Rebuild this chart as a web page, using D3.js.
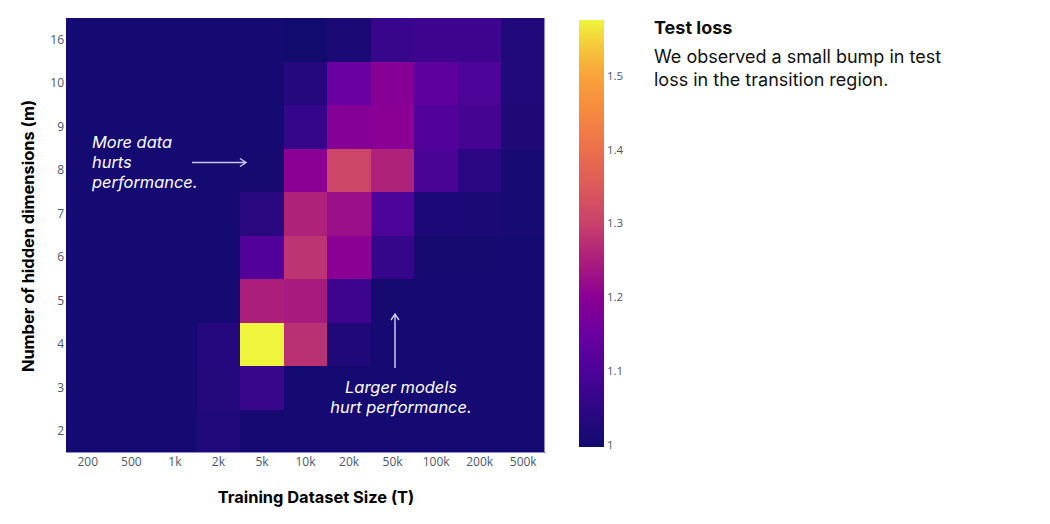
<!DOCTYPE html>
<html>
<head>
<meta charset="utf-8">
<script src="https://cdn.jsdelivr.net/npm/d3@7"></script>
<style>
  body { margin: 0; background: #fff; }
  svg { display: block; }
  .tick text { font-family: "Open Sans", sans-serif; font-size: 12px; fill: #4c586e; }
  .cb .tick text { font-size: 11.5px; }
  .title { font-family: Inter, sans-serif; font-weight: 700; font-size: 16.4px; fill: #000; }
  .note { font-family: Inter, sans-serif; font-style: italic; font-size: 16.4px; fill: #fff; }
  .side { font-family: Inter, sans-serif; font-size: 18px; fill: #111; }
</style>
</head>
<body>
<svg id="chart" width="1050" height="524"></svg>
<script>
// training set sizes (columns) and hidden dimensions (rows, bottom to top)
var sizes = ["200", "500", "1k", "2k", "5k", "10k", "20k", "50k", "100k", "200k", "500k"];
var dims = ["2", "3", "4", "5", "6", "7", "8", "9", "10", "16"];

// test loss, one row per hidden dimension
var loss2  = [1.005, 1.005, 1.005, 1.025, 1.005, 1.005, 1.005, 1.005, 1.005, 1.005, 1.005];
var loss3  = [1.005, 1.005, 1.005, 1.030, 1.065, 1.005, 1.005, 1.005, 1.005, 1.005, 1.005];
var loss4  = [1.005, 1.005, 1.005, 1.035, 1.575, 1.275, 1.022, 1.005, 1.005, 1.005, 1.005];
var loss5  = [1.005, 1.005, 1.005, 1.005, 1.250, 1.245, 1.075, 1.006, 1.005, 1.005, 1.005];
var loss6  = [1.005, 1.005, 1.005, 1.005, 1.110, 1.280, 1.200, 1.060, 1.006, 1.006, 1.005];
var loss7  = [1.005, 1.005, 1.005, 1.005, 1.040, 1.255, 1.225, 1.100, 1.018, 1.015, 1.008];
var loss8  = [1.005, 1.005, 1.005, 1.005, 1.006, 1.200, 1.310, 1.255, 1.095, 1.045, 1.008];
var loss9  = [1.005, 1.005, 1.005, 1.005, 1.005, 1.060, 1.190, 1.200, 1.110, 1.090, 1.020];
var loss10 = [1.005, 1.005, 1.005, 1.005, 1.005, 1.035, 1.150, 1.195, 1.130, 1.100, 1.025];
var loss16 = [1.005, 1.005, 1.005, 1.005, 1.005, 0.997, 1.015, 1.065, 1.075, 1.075, 1.028];
var lossRows = [loss2, loss3, loss4, loss5, loss6, loss7, loss8, loss9, loss10, loss16];

// colour scale stops as seen on the colour bar
var stopValues = [0.997, 1.05, 1.1, 1.15, 1.2, 1.25, 1.3, 1.35, 1.4, 1.45, 1.5, 1.54, 1.575];
var stopColors = ["#110b6d", "#2e0785", "#4c0397", "#6a00a0", "#8a0094", "#ab1e7c", "#c8426a",
                  "#dc5a5a", "#eb704b", "#f5893f", "#f8a33a", "#f5c83a", "#eef53c"];
var cbTicks = [1, 1.1, 1.2, 1.3, 1.4, 1.5];

var svg = d3.select("#chart");

var x = d3.scaleBand().domain(sizes).range([66, 545]);
var y = d3.scaleBand().domain(dims.slice().reverse()).range([18, 453]);
var color = d3.scaleLinear().domain(stopValues).range(stopColors).clamp(true);

var cells = [];
lossRows.forEach(function (row, i) {
    row.forEach(function (v, j) {
        cells.push({ dim: dims[i], size: sizes[j], value: v });
    });
});

svg.append("g")
    .attr("shape-rendering", "crispEdges")
    .selectAll("rect")
    .data(cells)
    .enter()
    .append("rect")
    .attr("x", d => Math.round(x(d.size)))
    .attr("y", d => Math.round(y(d.dim)))
    .attr("width", d => Math.round(x(d.size) + x.bandwidth()) - Math.round(x(d.size)))
    .attr("height", d => Math.round(y(d.dim) + y.bandwidth()) - Math.round(y(d.dim)))
    .attr("fill", d => color(d.value));

// faint edge on right and bottom of the heatmap
svg.append("path")
    .attr("d", "M" + (x.range()[1] - 0.5) + "," + y.range()[0] + "V" + (y.range()[1] - 0.5) + "H" + x.range()[0])
    .attr("fill", "none")
    .attr("stroke", "#8f89d0")
    .attr("stroke-width", 1);

// axes
var xAxis = svg.append("g")
    .attr("transform", "translate(0,453)")
    .call(d3.axisBottom(x).tickSize(0).tickPadding(4));
xAxis.select(".domain").remove();

var yAxis = svg.append("g")
    .attr("transform", "translate(66,0)")
    .call(d3.axisLeft(y).tickSize(0).tickPadding(2));
yAxis.select(".domain").remove();

svg.append("text")
    .attr("class", "title")
    .attr("x", 316)
    .attr("y", 503)
    .attr("text-anchor", "middle")
    .text("Training Dataset Size (T)");

svg.append("text")
    .attr("class", "title")
    .attr("transform", "translate(34,236) rotate(-90)")
    .attr("text-anchor", "middle")
    .text("Number of hidden dimensions (m)");

// annotations
var leftNote = svg.append("text").attr("class", "note");
["More data", "hurts", "performance."].forEach(function (t, i) {
    leftNote.append("tspan").attr("x", 92).attr("y", 148 + i * 20).text(t);
});

var bottomNote = svg.append("text").attr("class", "note").attr("text-anchor", "middle");
["Larger models", "hurt performance."].forEach(function (t, i) {
    bottomNote.append("tspan").attr("x", 401).attr("y", 393 + i * 19.5).text(t);
});

var arrowColor = "#c9c6ee";
svg.append("path")
    .attr("d", "M192,162.5H246M240,158.5L246,162.5L240,166.5")
    .attr("fill", "none")
    .attr("stroke", arrowColor)
    .attr("stroke-width", 1.5);
svg.append("path")
    .attr("d", "M395,368V314M391,320L395,314L399,320")
    .attr("fill", "none")
    .attr("stroke", arrowColor)
    .attr("stroke-width", 1.5);

// colour bar
var cbScale = d3.scaleLinear().domain([1, 1.575]).range([445, 20]);
var defs = svg.append("defs");
var grad = defs.append("linearGradient")
    .attr("id", "cbgrad")
    .attr("x1", 0).attr("y1", 1).attr("x2", 0).attr("y2", 0);
var cbLo = cbScale.invert(447), cbHi = cbScale.invert(20);
stopValues.forEach(function (v, i) {
    grad.append("stop")
        .attr("offset", Math.max(0, (v - cbLo) / (cbHi - cbLo)))
        .attr("stop-color", stopColors[i]);
});
svg.append("rect")
    .attr("x", 579)
    .attr("y", 20)
    .attr("width", 25)
    .attr("height", 427)
    .attr("fill", "url(#cbgrad)");

var cbAxis = svg.append("g")
    .attr("class", "cb")
    .attr("transform", "translate(604,0)")
    .call(d3.axisRight(cbScale).tickValues(cbTicks).tickSize(0).tickPadding(3).tickFormat(d3.format("")));
cbAxis.select(".domain").remove();

// side text
svg.append("text")
    .attr("class", "side")
    .attr("x", 654)
    .attr("y", 34)
    .attr("font-weight", 700)
    .text("Test loss");
var desc = svg.append("text").attr("class", "side");
["We observed a small bump in test", "loss in the transition region."].forEach(function (t, i) {
    desc.append("tspan").attr("x", 654).attr("y", 63 + i * 22.5).text(t);
});
</script>
</body>
</html>
